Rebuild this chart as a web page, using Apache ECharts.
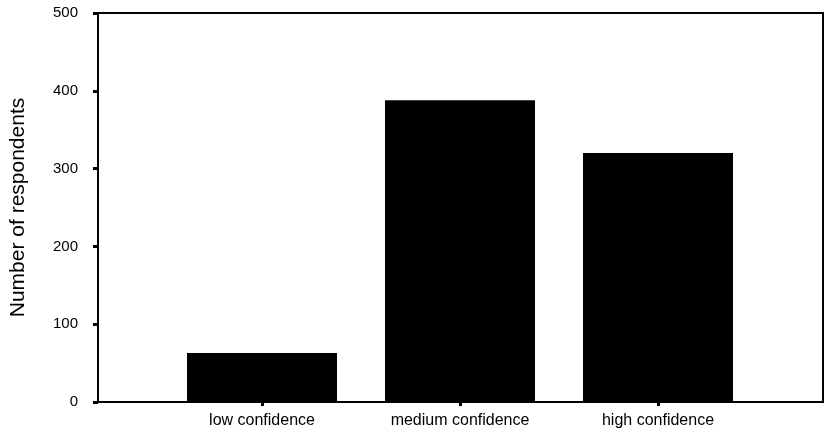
<!DOCTYPE html>
<html>
<head>
<meta charset="utf-8">
<script src="https://cdn.jsdelivr.net/npm/echarts@6/dist/echarts.min.js"></script>
<style>html,body{margin:0;padding:0;background:#fff}#c{width:825px;height:431px}</style>
</head>
<body>
<div id="c"></div>
<script>
var categories = ['low confidence', 'medium confidence', 'high confidence'];
var respondents = [63, 388, 320];
var yTicks = { min: 0, max: 500, interval: 100 };
var yTitle = 'Number of respondents';

var chart = echarts.init(document.getElementById('c'), null, { renderer: 'canvas' });
var font = 'Liberation Sans, Arial, Helvetica, sans-serif';
chart.setOption({
  animation: false,
  backgroundColor: '#fff',
  grid: [
    { left: 97, right: 2, top: 13, bottom: 29, show: true, borderColor: '#000', borderWidth: 2, backgroundColor: 'transparent' },
    { left: 163, right: 68, top: 13, bottom: 29 }
  ],
  xAxis: [
    { gridIndex: 0, type: 'value', show: false, min: 0, max: 1 },
    { gridIndex: 1, type: 'category', data: categories,
      axisLine: { show: false },
      axisTick: { show: true, alignWithLabel: true, length: 4, lineStyle: { color: '#000', width: 3 } },
      axisLabel: { color: '#000', fontSize: 16, fontFamily: font, margin: 11 } }
  ],
  yAxis: [
    { gridIndex: 0, type: 'value', min: yTicks.min, max: yTicks.max, interval: yTicks.interval,
      name: yTitle, nameLocation: 'middle', nameGap: 69,
      nameTextStyle: { color: '#000', fontSize: 21, fontFamily: font },
      axisLine: { show: true, lineStyle: { color: '#000', width: 2 } },
      axisTick: { show: true, inside: false, length: 5, lineStyle: { color: '#000', width: 3 } },
      axisLabel: { color: '#000', fontSize: 15, fontFamily: font, margin: 20 },
      splitLine: { show: false } },
    { gridIndex: 1, type: 'value', min: yTicks.min, max: yTicks.max, show: false, splitLine: { show: false } }
  ],
  series: [{
    type: 'bar', xAxisIndex: 1, yAxisIndex: 1,
    data: respondents, barWidth: 150,
    itemStyle: { color: '#000' }
  }]
});
</script>
</body>
</html>
